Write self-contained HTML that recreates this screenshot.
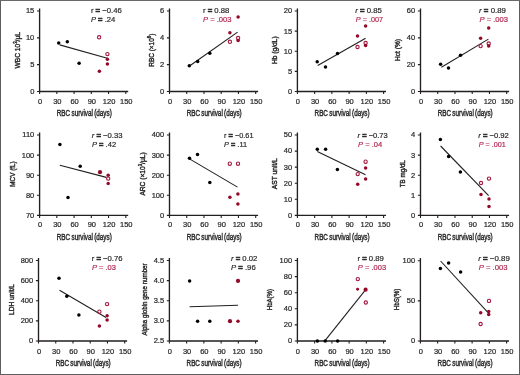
<!DOCTYPE html>
<html><head><meta charset="utf-8"><style>
html,body{margin:0;padding:0;background:#fff;}
svg{display:block;will-change:transform;}
text{font-family:"Liberation Sans",sans-serif;}
.ax{fill:none;stroke:#231f20;stroke-width:1.35;}
.tk{fill:none;stroke:#231f20;stroke-width:1.1;}
.ty{font-size:7.5px;fill:#2a2a2a;text-anchor:end;stroke:#2a2a2a;stroke-width:0.22;}
.tx{font-size:7.5px;fill:#2a2a2a;text-anchor:middle;stroke:#2a2a2a;stroke-width:0.22;}
.xl{word-spacing:-0.6px;font-size:9.0px;fill:#2a2a2a;stroke:#2a2a2a;stroke-width:0.45;}
.yl{font-size:8.0px;fill:#2a2a2a;text-anchor:middle;stroke:#2a2a2a;stroke-width:0.42;}
.rl{stroke:#231f20;stroke-width:1.1;}
.eq{font-weight:bold;stroke-width:0.55;}
.rp{font-size:7.7px;fill:#2a2a2a;stroke:#2a2a2a;stroke-width:0.2;}
</style></head><body>
<svg width="520" height="375" viewBox="0 0 520 375">
<rect x="0.5" y="0.5" width="519" height="374" fill="#fff" stroke="#5e5e5e" stroke-width="1"/><path d="M0 0.5H520" stroke="#686868" stroke-width="1"/>
<g><path d="M39.60 8.40V91.50H128.20" class="ax"/><text x="34.30" y="93.90" class="ty">0</text><text x="34.30" y="67.07" class="ty">5</text><text x="34.30" y="40.23" class="ty">10</text><text x="34.30" y="13.40" class="ty">15</text><text x="40.10" y="104.00" class="tx">0</text><text x="57.34" y="104.00" class="tx">30</text><text x="74.58" y="104.00" class="tx">60</text><text x="91.82" y="104.00" class="tx">90</text><text x="109.06" y="104.00" class="tx">120</text><text x="126.30" y="104.00" class="tx">150</text><path d="M37.00 91.50H39.60M37.00 64.67H39.60M37.00 37.83H39.60M37.00 11.00H39.60M39.60 91.50V94.10M56.84 91.50V94.10M74.08 91.50V94.10M91.32 91.50V94.10M108.56 91.50V94.10M125.80 91.50V94.10" class="tk"/><text x="56.80" y="116.20" class="xl" textLength="55" lengthAdjust="spacingAndGlyphs">RBC survival (days)</text><text transform="translate(19.50 50.30) rotate(-90)" x="0" y="0" class="yl" textLength="36.6" lengthAdjust="spacingAndGlyphs">WBC 10<tspan dy="-2.6" font-size="5.2">3</tspan><tspan dy="2.6">/µL</tspan></text><line x1="59.7" y1="44.9" x2="107.3" y2="58.3" class="rl"/><circle cx="58.7" cy="42.9" r="1.75" fill="#000"/><circle cx="67.3" cy="41.7" r="1.75" fill="#000"/><circle cx="79.1" cy="63.3" r="1.75" fill="#000"/><circle cx="99.1" cy="37.3" r="1.65" fill="none" stroke="#a3183f" stroke-width="1.1"/><circle cx="107.4" cy="54.1" r="1.65" fill="none" stroke="#a3183f" stroke-width="1.1"/><circle cx="107.4" cy="59.3" r="1.75" fill="#940828"/><circle cx="107.4" cy="64.0" r="1.75" fill="#940828"/><circle cx="99.4" cy="71.3" r="1.75" fill="#940828"/><text x="90.9" y="12.8" class="rp" textLength="30.9" lengthAdjust="spacingAndGlyphs"><tspan>r</tspan> <tspan class="eq">=</tspan> −0.46</text><text x="90.9" y="21.6" class="rp" style="fill:#2a2a2a;stroke:#2a2a2a" textLength="24.4" lengthAdjust="spacingAndGlyphs"><tspan font-style="italic">P</tspan> <tspan class="eq">=</tspan> .24</text></g>
<g><path d="M169.50 8.40V91.50H258.10" class="ax"/><text x="164.20" y="93.90" class="ty">0</text><text x="164.20" y="67.07" class="ty">2</text><text x="164.20" y="40.23" class="ty">4</text><text x="164.20" y="13.40" class="ty">6</text><text x="170.00" y="104.00" class="tx">0</text><text x="187.24" y="104.00" class="tx">30</text><text x="204.48" y="104.00" class="tx">60</text><text x="221.72" y="104.00" class="tx">90</text><text x="238.96" y="104.00" class="tx">120</text><text x="256.20" y="104.00" class="tx">150</text><path d="M166.90 91.50H169.50M166.90 64.67H169.50M166.90 37.83H169.50M166.90 11.00H169.50M169.50 91.50V94.10M186.74 91.50V94.10M203.98 91.50V94.10M221.22 91.50V94.10M238.46 91.50V94.10M255.70 91.50V94.10" class="tk"/><text x="186.70" y="116.20" class="xl" textLength="55" lengthAdjust="spacingAndGlyphs">RBC survival (days)</text><text transform="translate(153.60 50.25) rotate(-90)" x="0" y="0" class="yl" textLength="33.1" lengthAdjust="spacingAndGlyphs">RBC (×10<tspan dy="-2.6" font-size="5.2">6</tspan><tspan dy="2.6">)</tspan></text><line x1="190.2" y1="65.5" x2="237.6" y2="32.1" class="rl"/><circle cx="189.3" cy="65.8" r="1.75" fill="#000"/><circle cx="197.7" cy="61.6" r="1.75" fill="#000"/><circle cx="209.8" cy="53.3" r="1.75" fill="#000"/><circle cx="238.1" cy="16.9" r="1.75" fill="#940828"/><circle cx="229.9" cy="32.7" r="1.75" fill="#940828"/><circle cx="229.9" cy="41.8" r="1.65" fill="none" stroke="#a3183f" stroke-width="1.1"/><circle cx="238.1" cy="38.0" r="1.65" fill="none" stroke="#a3183f" stroke-width="1.1"/><circle cx="238.1" cy="40.4" r="1.75" fill="#940828"/><text x="203.0" y="12.8" class="rp" textLength="26.4" lengthAdjust="spacingAndGlyphs"><tspan>r</tspan> <tspan class="eq">=</tspan> 0.88</text><text x="203.0" y="21.6" class="rp" style="fill:#b22a52;stroke:#b22a52" textLength="28.6" lengthAdjust="spacingAndGlyphs"><tspan font-style="italic">P</tspan> = .003</text></g>
<g><path d="M297.40 8.40V91.50H386.00" class="ax"/><text x="292.10" y="93.90" class="ty">0</text><text x="292.10" y="73.78" class="ty">5</text><text x="292.10" y="53.65" class="ty">10</text><text x="292.10" y="33.52" class="ty">15</text><text x="292.10" y="13.40" class="ty">20</text><text x="297.90" y="104.00" class="tx">0</text><text x="315.14" y="104.00" class="tx">30</text><text x="332.38" y="104.00" class="tx">60</text><text x="349.62" y="104.00" class="tx">90</text><text x="366.86" y="104.00" class="tx">120</text><text x="384.10" y="104.00" class="tx">150</text><path d="M294.80 91.50H297.40M294.80 71.38H297.40M294.80 51.25H297.40M294.80 31.12H297.40M294.80 11.00H297.40M297.40 91.50V94.10M314.64 91.50V94.10M331.88 91.50V94.10M349.12 91.50V94.10M366.36 91.50V94.10M383.60 91.50V94.10" class="tk"/><text x="314.60" y="116.20" class="xl" textLength="55" lengthAdjust="spacingAndGlyphs">RBC survival (days)</text><text transform="translate(276.80 50.15) rotate(-90)" x="0" y="0" class="yl" textLength="27.5" lengthAdjust="spacingAndGlyphs">Hb (g/dL)</text><line x1="317.7" y1="65.5" x2="365.6" y2="38.2" class="rl"/><circle cx="317.2" cy="61.7" r="1.75" fill="#000"/><circle cx="325.5" cy="66.9" r="1.75" fill="#000"/><circle cx="337.5" cy="53.4" r="1.75" fill="#000"/><circle cx="365.6" cy="25.9" r="1.75" fill="#940828"/><circle cx="357.5" cy="36.1" r="1.75" fill="#940828"/><circle cx="357.5" cy="47.0" r="1.65" fill="none" stroke="#a3183f" stroke-width="1.1"/><circle cx="365.6" cy="43.0" r="1.65" fill="none" stroke="#a3183f" stroke-width="1.1"/><circle cx="365.6" cy="45.4" r="1.75" fill="#940828"/><text x="355.2" y="12.8" class="rp" textLength="26.6" lengthAdjust="spacingAndGlyphs"><tspan font-style="italic">r</tspan> <tspan class="eq">=</tspan> 0.85</text><text x="355.8" y="21.6" class="rp" style="fill:#b22a52;stroke:#b22a52" textLength="27.3" lengthAdjust="spacingAndGlyphs"><tspan font-style="italic">P</tspan> = .007</text></g>
<g><path d="M420.50 8.40V91.50H509.10" class="ax"/><text x="415.20" y="93.90" class="ty">0</text><text x="415.20" y="67.07" class="ty">20</text><text x="415.20" y="40.23" class="ty">40</text><text x="415.20" y="13.40" class="ty">60</text><text x="421.00" y="104.00" class="tx">0</text><text x="438.24" y="104.00" class="tx">30</text><text x="455.48" y="104.00" class="tx">60</text><text x="472.72" y="104.00" class="tx">90</text><text x="489.96" y="104.00" class="tx">120</text><text x="507.20" y="104.00" class="tx">150</text><path d="M417.90 91.50H420.50M417.90 64.67H420.50M417.90 37.83H420.50M417.90 11.00H420.50M420.50 91.50V94.10M437.74 91.50V94.10M454.98 91.50V94.10M472.22 91.50V94.10M489.46 91.50V94.10M506.70 91.50V94.10" class="tk"/><text x="437.70" y="116.20" class="xl" textLength="55" lengthAdjust="spacingAndGlyphs">RBC survival (days)</text><text transform="translate(399.70 50.00) rotate(-90)" x="0" y="0" class="yl" textLength="21.8" lengthAdjust="spacingAndGlyphs">Hct (%)</text><line x1="441.4" y1="67.3" x2="488.4" y2="39.1" class="rl"/><circle cx="440.6" cy="64.3" r="1.75" fill="#000"/><circle cx="448.5" cy="68.1" r="1.75" fill="#000"/><circle cx="460.5" cy="55.2" r="1.75" fill="#000"/><circle cx="488.7" cy="28.1" r="1.75" fill="#940828"/><circle cx="480.6" cy="38.2" r="1.75" fill="#940828"/><circle cx="480.6" cy="46.1" r="1.65" fill="none" stroke="#a3183f" stroke-width="1.1"/><circle cx="488.7" cy="43.5" r="1.65" fill="none" stroke="#a3183f" stroke-width="1.1"/><circle cx="488.7" cy="46.1" r="1.75" fill="#940828"/><text x="479.1" y="12.8" class="rp" textLength="26.8" lengthAdjust="spacingAndGlyphs"><tspan font-style="italic">r</tspan> <tspan class="eq">=</tspan> 0.89</text><text x="479.5" y="21.6" class="rp" style="fill:#b22a52;stroke:#b22a52" textLength="28.5" lengthAdjust="spacingAndGlyphs"><tspan font-style="italic">P</tspan> = .003</text></g>
<g><path d="M39.60 132.40V215.40H128.20" class="ax"/><text x="34.30" y="217.80" class="ty">70</text><text x="34.30" y="197.70" class="ty">80</text><text x="34.30" y="177.60" class="ty">90</text><text x="34.30" y="157.50" class="ty">100</text><text x="34.30" y="137.40" class="ty">110</text><text x="40.10" y="227.20" class="tx">0</text><text x="57.34" y="227.20" class="tx">30</text><text x="74.58" y="227.20" class="tx">60</text><text x="91.82" y="227.20" class="tx">90</text><text x="109.06" y="227.20" class="tx">120</text><text x="126.30" y="227.20" class="tx">150</text><path d="M37.00 215.40H39.60M37.00 195.30H39.60M37.00 175.20H39.60M37.00 155.10H39.60M37.00 135.00H39.60M39.60 215.40V218.00M56.84 215.40V218.00M74.08 215.40V218.00M91.32 215.40V218.00M108.56 215.40V218.00M125.80 215.40V218.00" class="tk"/><text x="56.80" y="240.10" class="xl" textLength="55" lengthAdjust="spacingAndGlyphs">RBC survival (days)</text><text transform="translate(14.90 174.00) rotate(-90)" x="0" y="0" class="yl" textLength="25.4" lengthAdjust="spacingAndGlyphs">MCV (fL)</text><line x1="59.9" y1="165.3" x2="106.4" y2="177.4" class="rl"/><circle cx="59.9" cy="144.5" r="1.75" fill="#000"/><circle cx="80.2" cy="166.2" r="1.75" fill="#000"/><circle cx="68.0" cy="197.4" r="1.75" fill="#000"/><circle cx="100.0" cy="172.2" r="2.1" fill="#940828"/><circle cx="108.2" cy="175.2" r="1.75" fill="#940828"/><circle cx="108.2" cy="178.6" r="1.65" fill="none" stroke="#a3183f" stroke-width="1.1"/><circle cx="108.2" cy="183.4" r="1.75" fill="#940828"/><text x="91.7" y="137.6" class="rp" textLength="30.9" lengthAdjust="spacingAndGlyphs"><tspan font-style="italic">r</tspan> <tspan class="eq">=</tspan> −0.33</text><text x="91.9" y="146.6" class="rp" style="fill:#2a2a2a;stroke:#2a2a2a" textLength="24.2" lengthAdjust="spacingAndGlyphs"><tspan font-style="italic">P</tspan> <tspan class="eq">=</tspan> .42</text></g>
<g><path d="M169.50 132.40V215.40H258.10" class="ax"/><text x="164.20" y="217.80" class="ty">0</text><text x="164.20" y="197.70" class="ty">100</text><text x="164.20" y="177.60" class="ty">200</text><text x="164.20" y="157.50" class="ty">300</text><text x="164.20" y="137.40" class="ty">400</text><text x="170.00" y="227.20" class="tx">0</text><text x="187.24" y="227.20" class="tx">30</text><text x="204.48" y="227.20" class="tx">60</text><text x="221.72" y="227.20" class="tx">90</text><text x="238.96" y="227.20" class="tx">120</text><text x="256.20" y="227.20" class="tx">150</text><path d="M166.90 215.40H169.50M166.90 195.30H169.50M166.90 175.20H169.50M166.90 155.10H169.50M166.90 135.00H169.50M169.50 215.40V218.00M186.74 215.40V218.00M203.98 215.40V218.00M221.22 215.40V218.00M238.46 215.40V218.00M255.70 215.40V218.00" class="tk"/><text x="186.70" y="240.10" class="xl" textLength="55" lengthAdjust="spacingAndGlyphs">RBC survival (days)</text><text transform="translate(144.90 174.00) rotate(-90)" x="0" y="0" class="yl" textLength="43.2" lengthAdjust="spacingAndGlyphs">ARC (×10<tspan dy="-2.6" font-size="5.2">3</tspan><tspan dy="2.6">/µL)</tspan></text><line x1="189.5" y1="158.9" x2="237.5" y2="187.1" class="rl"/><circle cx="189.5" cy="158.3" r="1.75" fill="#000"/><circle cx="197.5" cy="154.5" r="1.75" fill="#000"/><circle cx="209.8" cy="182.6" r="1.75" fill="#000"/><circle cx="229.8" cy="163.7" r="1.65" fill="none" stroke="#a3183f" stroke-width="1.1"/><circle cx="238.0" cy="163.7" r="1.65" fill="none" stroke="#a3183f" stroke-width="1.1"/><circle cx="237.9" cy="193.9" r="1.75" fill="#940828"/><circle cx="229.9" cy="197.3" r="1.75" fill="#940828"/><circle cx="237.9" cy="203.9" r="1.75" fill="#940828"/><text x="224.1" y="137.6" class="rp" textLength="29.4" lengthAdjust="spacingAndGlyphs"><tspan>r</tspan> <tspan class="eq">=</tspan> −0.61</text><text x="224.1" y="146.6" class="rp" style="fill:#2a2a2a;stroke:#2a2a2a" textLength="22.9" lengthAdjust="spacingAndGlyphs"><tspan font-style="italic">P</tspan> <tspan class="eq">=</tspan> .11</text></g>
<g><path d="M297.40 132.40V215.40H386.00" class="ax"/><text x="292.10" y="217.80" class="ty">0</text><text x="292.10" y="201.72" class="ty">10</text><text x="292.10" y="185.64" class="ty">20</text><text x="292.10" y="169.56" class="ty">30</text><text x="292.10" y="153.48" class="ty">40</text><text x="292.10" y="137.40" class="ty">50</text><text x="297.90" y="227.20" class="tx">0</text><text x="315.14" y="227.20" class="tx">30</text><text x="332.38" y="227.20" class="tx">60</text><text x="349.62" y="227.20" class="tx">90</text><text x="366.86" y="227.20" class="tx">120</text><text x="384.10" y="227.20" class="tx">150</text><path d="M294.80 215.40H297.40M294.80 199.32H297.40M294.80 183.24H297.40M294.80 167.16H297.40M294.80 151.08H297.40M294.80 135.00H297.40M297.40 215.40V218.00M314.64 215.40V218.00M331.88 215.40V218.00M349.12 215.40V218.00M366.36 215.40V218.00M383.60 215.40V218.00" class="tk"/><text x="314.60" y="240.10" class="xl" textLength="55" lengthAdjust="spacingAndGlyphs">RBC survival (days)</text><text transform="translate(277.00 173.70) rotate(-90)" x="0" y="0" class="yl" textLength="31.0" lengthAdjust="spacingAndGlyphs">AST unit/L</text><line x1="317.3" y1="151.6" x2="365.5" y2="174.7" class="rl"/><circle cx="317.3" cy="149.2" r="1.75" fill="#000"/><circle cx="325.6" cy="149.2" r="1.75" fill="#000"/><circle cx="337.4" cy="169.5" r="1.75" fill="#000"/><circle cx="365.6" cy="161.7" r="1.65" fill="none" stroke="#a3183f" stroke-width="1.1"/><circle cx="365.6" cy="168.1" r="1.75" fill="#940828"/><circle cx="357.7" cy="174.1" r="1.65" fill="none" stroke="#a3183f" stroke-width="1.1"/><circle cx="365.6" cy="179.0" r="1.75" fill="#940828"/><circle cx="357.7" cy="184.2" r="1.75" fill="#940828"/><text x="357.5" y="137.6" class="rp" textLength="30.3" lengthAdjust="spacingAndGlyphs"><tspan font-style="italic">r</tspan> <tspan class="eq">=</tspan> −0.73</text><text x="358.0" y="146.6" class="rp" style="fill:#b22a52;stroke:#b22a52" textLength="24.2" lengthAdjust="spacingAndGlyphs"><tspan font-style="italic">P</tspan> = .04</text></g>
<g><path d="M420.50 132.40V215.40H509.10" class="ax"/><text x="415.20" y="217.80" class="ty">0</text><text x="415.20" y="197.70" class="ty">1</text><text x="415.20" y="177.60" class="ty">2</text><text x="415.20" y="157.50" class="ty">3</text><text x="415.20" y="137.40" class="ty">4</text><text x="421.00" y="227.20" class="tx">0</text><text x="438.24" y="227.20" class="tx">30</text><text x="455.48" y="227.20" class="tx">60</text><text x="472.72" y="227.20" class="tx">90</text><text x="489.96" y="227.20" class="tx">120</text><text x="507.20" y="227.20" class="tx">150</text><path d="M417.90 215.40H420.50M417.90 195.30H420.50M417.90 175.20H420.50M417.90 155.10H420.50M417.90 135.00H420.50M420.50 215.40V218.00M437.74 215.40V218.00M454.98 215.40V218.00M472.22 215.40V218.00M489.46 215.40V218.00M506.70 215.40V218.00" class="tk"/><text x="437.70" y="240.10" class="xl" textLength="55" lengthAdjust="spacingAndGlyphs">RBC survival (days)</text><text transform="translate(404.50 173.70) rotate(-90)" x="0" y="0" class="yl" textLength="27.0" lengthAdjust="spacingAndGlyphs">TB mg/dL</text><line x1="440.6" y1="146.0" x2="488.6" y2="195.6" class="rl"/><circle cx="440.4" cy="139.4" r="1.75" fill="#000"/><circle cx="448.6" cy="156.6" r="1.75" fill="#000"/><circle cx="460.4" cy="172.0" r="1.75" fill="#000"/><circle cx="481.0" cy="183.0" r="1.65" fill="none" stroke="#a3183f" stroke-width="1.1"/><circle cx="489.0" cy="178.6" r="1.65" fill="none" stroke="#a3183f" stroke-width="1.1"/><circle cx="481.0" cy="194.6" r="1.75" fill="#940828"/><circle cx="489.0" cy="199.0" r="1.75" fill="#940828"/><circle cx="489.0" cy="206.6" r="1.75" fill="#940828"/><text x="478.2" y="137.6" class="rp" textLength="30.7" lengthAdjust="spacingAndGlyphs"><tspan font-style="italic">r</tspan> <tspan class="eq">=</tspan> −0.92</text><text x="478.7" y="146.6" class="rp" style="fill:#b22a52;stroke:#b22a52" textLength="27.2" lengthAdjust="spacingAndGlyphs"><tspan font-style="italic">P</tspan> = .001</text></g>
<g><path d="M38.50 257.90V341.00H127.10" class="ax"/><text x="33.20" y="343.40" class="ty">0</text><text x="33.20" y="323.27" class="ty">200</text><text x="33.20" y="303.15" class="ty">400</text><text x="33.20" y="283.02" class="ty">600</text><text x="33.20" y="262.90" class="ty">800</text><text x="39.00" y="353.50" class="tx">0</text><text x="56.24" y="353.50" class="tx">30</text><text x="73.48" y="353.50" class="tx">60</text><text x="90.72" y="353.50" class="tx">90</text><text x="107.96" y="353.50" class="tx">120</text><text x="125.20" y="353.50" class="tx">150</text><path d="M35.90 341.00H38.50M35.90 320.88H38.50M35.90 300.75H38.50M35.90 280.62H38.50M35.90 260.50H38.50M38.50 341.00V343.60M55.74 341.00V343.60M72.98 341.00V343.60M90.22 341.00V343.60M107.46 341.00V343.60M124.70 341.00V343.60" class="tk"/><text x="55.70" y="365.70" class="xl" textLength="55" lengthAdjust="spacingAndGlyphs">RBC survival (days)</text><text transform="translate(14.20 299.50) rotate(-90)" x="0" y="0" class="yl" textLength="30.8" lengthAdjust="spacingAndGlyphs">LDH unit/L</text><line x1="59.5" y1="290.3" x2="106.0" y2="317.4" class="rl"/><circle cx="59.0" cy="278.3" r="1.75" fill="#000"/><circle cx="66.8" cy="296.3" r="1.75" fill="#000"/><circle cx="78.9" cy="315.1" r="1.75" fill="#000"/><circle cx="107.1" cy="304.1" r="1.65" fill="none" stroke="#a3183f" stroke-width="1.1"/><circle cx="99.4" cy="311.7" r="1.65" fill="none" stroke="#a3183f" stroke-width="1.1"/><circle cx="107.1" cy="315.8" r="1.75" fill="#940828"/><circle cx="107.1" cy="320.1" r="1.75" fill="#940828"/><circle cx="99.4" cy="326.1" r="1.75" fill="#940828"/><text x="91.7" y="261.2" class="rp" textLength="30.9" lengthAdjust="spacingAndGlyphs"><tspan>r</tspan> <tspan class="eq">=</tspan> −0.76</text><text x="91.9" y="270.1" class="rp" style="fill:#b22a52;stroke:#b22a52" textLength="24.1" lengthAdjust="spacingAndGlyphs"><tspan font-style="italic">P</tspan> = .03</text></g>
<g><path d="M169.40 257.90V341.00H258.00" class="ax"/><text x="164.10" y="343.40" class="ty">2.5</text><text x="164.10" y="323.27" class="ty">3.0</text><text x="164.10" y="303.15" class="ty">3.5</text><text x="164.10" y="283.02" class="ty">4.0</text><text x="164.10" y="262.90" class="ty">4.5</text><text x="169.90" y="353.50" class="tx">0</text><text x="187.14" y="353.50" class="tx">30</text><text x="204.38" y="353.50" class="tx">60</text><text x="221.62" y="353.50" class="tx">90</text><text x="238.86" y="353.50" class="tx">120</text><text x="256.10" y="353.50" class="tx">150</text><path d="M166.80 341.00H169.40M166.80 320.88H169.40M166.80 300.75H169.40M166.80 280.62H169.40M166.80 260.50H169.40M169.40 341.00V343.60M186.64 341.00V343.60M203.88 341.00V343.60M221.12 341.00V343.60M238.36 341.00V343.60M255.60 341.00V343.60" class="tk"/><text x="186.60" y="365.70" class="xl" textLength="55" lengthAdjust="spacingAndGlyphs">RBC survival (days)</text><text transform="translate(147.30 299.50) rotate(-90)" x="0" y="0" class="yl" textLength="72.2" lengthAdjust="spacingAndGlyphs">Alpha globin gene number</text><line x1="189.6" y1="306.8" x2="238.0" y2="305.2" class="rl"/><circle cx="189.6" cy="280.9" r="1.75" fill="#000"/><circle cx="197.6" cy="321.2" r="1.75" fill="#000"/><circle cx="209.8" cy="321.2" r="1.75" fill="#000"/><circle cx="238.0" cy="280.9" r="2.1" fill="#940828"/><circle cx="230.0" cy="321.2" r="2.1" fill="#940828"/><circle cx="238.0" cy="321.2" r="1.75" fill="#940828"/><text x="231.0" y="261.2" class="rp" textLength="26.4" lengthAdjust="spacingAndGlyphs"><tspan font-style="italic">r</tspan> <tspan class="eq">=</tspan> 0.02</text><text x="231.0" y="270.1" class="rp" style="fill:#2a2a2a;stroke:#2a2a2a" textLength="24.7" lengthAdjust="spacingAndGlyphs"><tspan font-style="italic">P</tspan> <tspan class="eq">=</tspan> .96</text></g>
<g><path d="M297.40 257.90V341.00H386.00" class="ax"/><text x="292.10" y="343.40" class="ty">0</text><text x="292.10" y="327.30" class="ty">20</text><text x="292.10" y="311.20" class="ty">40</text><text x="292.10" y="295.10" class="ty">60</text><text x="292.10" y="279.00" class="ty">80</text><text x="292.10" y="262.90" class="ty">100</text><text x="297.90" y="353.50" class="tx">0</text><text x="315.14" y="353.50" class="tx">30</text><text x="332.38" y="353.50" class="tx">60</text><text x="349.62" y="353.50" class="tx">90</text><text x="366.86" y="353.50" class="tx">120</text><text x="384.10" y="353.50" class="tx">150</text><path d="M294.80 341.00H297.40M294.80 324.90H297.40M294.80 308.80H297.40M294.80 292.70H297.40M294.80 276.60H297.40M294.80 260.50H297.40M297.40 341.00V343.60M314.64 341.00V343.60M331.88 341.00V343.60M349.12 341.00V343.60M366.36 341.00V343.60M383.60 341.00V343.60" class="tk"/><text x="314.60" y="365.70" class="xl" textLength="55" lengthAdjust="spacingAndGlyphs">RBC survival (days)</text><text transform="translate(272.30 299.60) rotate(-90)" x="0" y="0" class="yl" textLength="21.2" lengthAdjust="spacingAndGlyphs">HbA(%)</text><line x1="325.2" y1="340.4" x2="364.7" y2="290.8" class="rl"/><circle cx="317.4" cy="341.0" r="1.75" fill="#000"/><circle cx="325.2" cy="341.0" r="1.75" fill="#000"/><circle cx="337.6" cy="341.0" r="1.75" fill="#000"/><circle cx="357.8" cy="279.1" r="1.65" fill="none" stroke="#a3183f" stroke-width="1.1"/><circle cx="357.6" cy="289.2" r="1.45" fill="#940828"/><circle cx="365.6" cy="289.7" r="2.1" fill="#940828"/><circle cx="365.8" cy="302.5" r="1.65" fill="none" stroke="#a3183f" stroke-width="1.1"/><text x="357.5" y="261.2" class="rp" textLength="26.4" lengthAdjust="spacingAndGlyphs"><tspan>r</tspan> <tspan class="eq">=</tspan> 0.89</text><text x="357.8" y="270.1" class="rp" style="fill:#b22a52;stroke:#b22a52" textLength="28.3" lengthAdjust="spacingAndGlyphs"><tspan font-style="italic">P</tspan> = .003</text></g>
<g><path d="M420.40 258.10V341.00H509.00" class="ax"/><text x="415.10" y="343.40" class="ty">0</text><text x="415.10" y="303.25" class="ty">50</text><text x="415.10" y="263.10" class="ty">100</text><text x="420.90" y="353.50" class="tx">0</text><text x="438.14" y="353.50" class="tx">30</text><text x="455.38" y="353.50" class="tx">60</text><text x="472.62" y="353.50" class="tx">90</text><text x="489.86" y="353.50" class="tx">120</text><text x="507.10" y="353.50" class="tx">150</text><path d="M417.80 341.00H420.40M417.80 300.85H420.40M417.80 260.70H420.40M420.40 341.00V343.60M437.64 341.00V343.60M454.88 341.00V343.60M472.12 341.00V343.60M489.36 341.00V343.60M506.60 341.00V343.60" class="tk"/><text x="437.60" y="365.70" class="xl" textLength="55" lengthAdjust="spacingAndGlyphs">RBC survival (days)</text><text transform="translate(398.70 299.40) rotate(-90)" x="0" y="0" class="yl" textLength="21.6" lengthAdjust="spacingAndGlyphs">HbS(%)</text><line x1="440.6" y1="261.0" x2="487.8" y2="312.3" class="rl"/><circle cx="440.4" cy="268.4" r="1.75" fill="#000"/><circle cx="448.6" cy="263.0" r="1.75" fill="#000"/><circle cx="460.6" cy="272.0" r="1.75" fill="#000"/><circle cx="489.0" cy="300.9" r="1.65" fill="none" stroke="#a3183f" stroke-width="1.1"/><circle cx="480.7" cy="312.8" r="1.75" fill="#940828"/><circle cx="488.7" cy="311.4" r="1.75" fill="#940828"/><circle cx="488.7" cy="314.6" r="1.75" fill="#940828"/><circle cx="480.6" cy="324.0" r="1.65" fill="none" stroke="#a3183f" stroke-width="1.1"/><text x="478.2" y="261.2" class="rp" textLength="31.6" lengthAdjust="spacingAndGlyphs"><tspan font-style="italic">r</tspan> <tspan class="eq">=</tspan> −0.89</text><text x="478.7" y="270.1" class="rp" style="fill:#b22a52;stroke:#b22a52" textLength="28.9" lengthAdjust="spacingAndGlyphs"><tspan font-style="italic">P</tspan> = .003</text></g>
</svg>
</body></html>
